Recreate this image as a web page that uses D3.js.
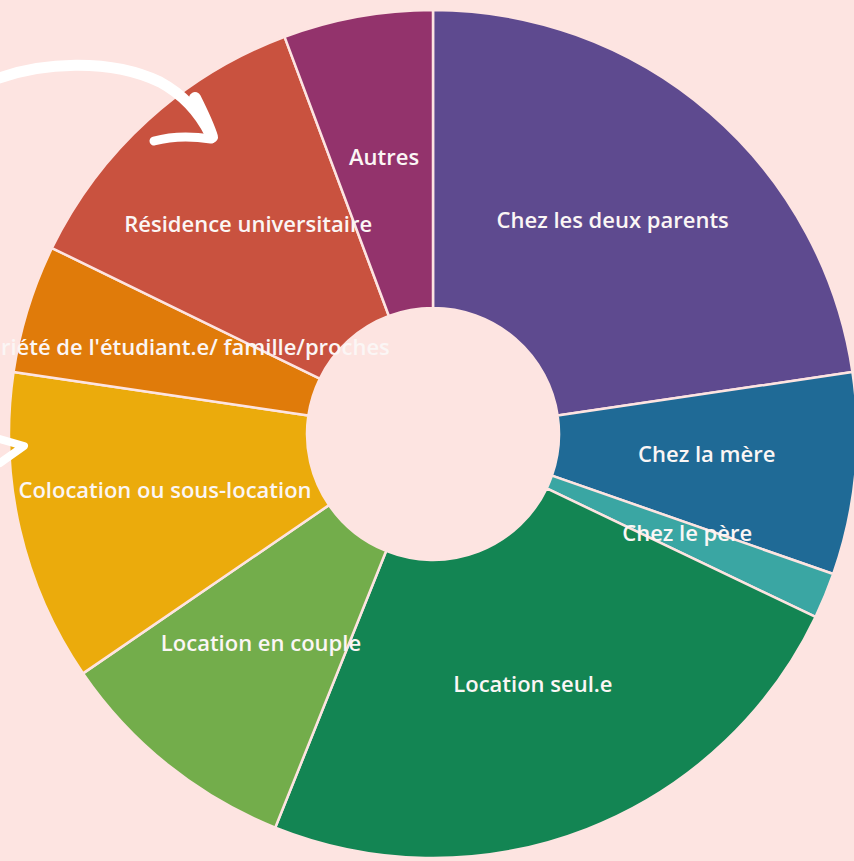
<!DOCTYPE html>
<html>
<head>
<meta charset="utf-8">
<script src="https://cdn.jsdelivr.net/npm/d3@7"></script>
<style>
  html, body { margin: 0; padding: 0; background: #fde4e1; }
  svg { display: block; }
</style>
</head>
<body>
<div id="chart"></div>
<script>
// Data (in % of students)
const categories = [
  "Chez les deux parents",
  "Chez la mère",
  "Chez le père",
  "Location seul.e",
  "Location en couple",
  "Colocation ou sous-location",
  "Propriété de l'étudiant.e/ famille/proches",
  "Résidence universitaire",
  "Autres"
];
const values = [22.7, 7.7, 1.75, 24.0, 9.4, 11.9, 4.9, 12.1, 5.7];
const colors = ["#5e4a8f", "#1f6a96", "#3aa6a3", "#138553", "#73ad4b",
                "#ebab0c", "#e07b0a", "#c9523f", "#93336c"];

const width = 854, height = 861;
const bg = "#fde4e1";
const cx = 433, cy = 434;
const innerR = 126, outerR = 424;

const svg = d3.select("#chart").append("svg")
  .attr("width", width)
  .attr("height", height);

svg.append("rect")
  .attr("width", width)
  .attr("height", height)
  .attr("fill", bg);

const data = categories.map((c, i) => ({ name: c, value: values[i], color: colors[i] }));

const pie = d3.pie()
  .sort(null)
  .value(d => d.value);

const arc = d3.arc()
  .innerRadius(innerR)
  .outerRadius(outerR);

const g = svg.append("g")
  .attr("transform", `translate(${cx},${cy})`);

const arcs = pie(data);

g.selectAll("path.slice")
  .data(arcs)
  .join("path")
  .attr("class", "slice")
  .attr("d", arc)
  .attr("fill", d => d.data.color)
  .attr("stroke", bg)
  .attr("stroke-width", 2.5)
  .attr("stroke-linejoin", "round");

// labels at the centroid, nudged up a bit
g.selectAll("text.label")
  .data(arcs)
  .join("text")
  .attr("class", "label")
  .attr("transform", d => {
    const [x, y] = arc.centroid(d);
    return `translate(${x},${y - 7})`;
  })
  .attr("text-anchor", "middle")
  .attr("dominant-baseline", "central")
  .style("font-family", "'Open Sans', sans-serif")
  .style("font-weight", 600)
  .style("font-size", "22px")
  .style("fill", "#fbf6f5")
  .text(d => d.data.name);

// decorative hand-drawn arrows
const deco = svg.append("g")
  .attr("fill", "none")
  .attr("stroke", "#ffffff")
  .attr("stroke-linecap", "round")
  .attr("stroke-linejoin", "round");

deco.append("path")
  .attr("d", "M -6 80 C 40 62, 110 58, 160 82 C 182 94, 198 110, 210 134")
  .attr("stroke-width", 11);
deco.append("path")
  .attr("d", "M 195 98 C 202 112, 208 124, 212 137")
  .attr("stroke-width", 12);
deco.append("path")
  .attr("d", "M 154 141 C 172 136, 192 136, 211 139")
  .attr("stroke-width", 9);

deco.append("path")
  .attr("d", "M -4 438 L 24 446 L 0 463")
  .attr("stroke-width", 8);
</script>
</body>
</html>
